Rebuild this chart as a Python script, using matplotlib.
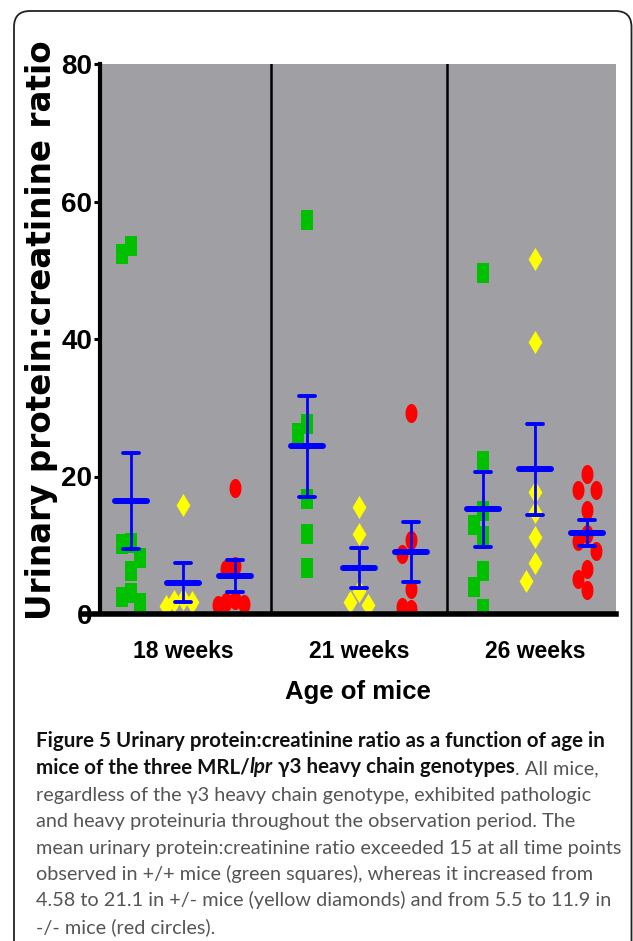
import numpy as np
import matplotlib
matplotlib.use('Agg')
import matplotlib.pyplot as plt
from matplotlib.path import Path
from matplotlib.patches import FancyBboxPatch
from matplotlib.transforms import IdentityTransform
from matplotlib import font_manager as fm

# ---------------- data ----------------
ages = ['18 weeks', '21 weeks', '26 weeks']
genotypes = ['+/+', '+/-', '-/-']

wt_18 = [53.5, 52.3, 10.4, 10.2, 8.1, 6.3, 3.1, 2.5, 1.6]
wt_21 = [57.3, 27.7, 26.3, 16.8, 11.6, 6.7]
wt_26 = [49.6, 22.3, 15.0, 12.9, 11.3, 6.3, 3.9, 0.8]

het_18 = [15.9, 2.2, 1.9, 1.8, 1.1]
het_21 = [15.6, 11.7, 3.3, 1.7, 1.3]
het_26 = [51.6, 39.5, 17.8, 14.9, 11.2, 7.4, 4.8]

ko_18 = [18.4, 7.0, 6.6, 2.0, 1.8, 1.4, 1.3]
ko_21 = [29.2, 10.8, 8.8, 3.6, 1.0, 0.7]
ko_26 = [20.3, 18.0, 18.0, 15.2, 11.7, 10.6, 9.1, 6.5, 5.1, 3.5]

yticks = [0, 20, 40, 60, 80]

series = {
    '+/+': [wt_18, wt_21, wt_26],
    '+/-': [het_18, het_21, het_26],
    '-/-': [ko_18, ko_21, ko_26],
}

# ---------------- style ----------------
W, H, DPI = 633, 941, 100
GRAY = '#A09FA4'
BLUE = '#0000FF'
colors = {'+/+': '#00C000', '+/-': '#FFFF00', '-/-': '#FF0000'}
col_offset = {'+/+': -0.295, '+/-': 0.0, '-/-': 0.295}

rect = Path([(-0.63, -1), (0.63, -1), (0.63, 1), (-0.63, 1), (-0.63, -1)],
            [Path.MOVETO, Path.LINETO, Path.LINETO, Path.LINETO, Path.CLOSEPOLY])
tt = np.linspace(0, 2 * np.pi, 61)
ell = Path(np.column_stack([0.63 * np.cos(tt), np.sin(tt)]))
dia = Path([(0, 1), (0.6, 0), (0, -1), (-0.6, 0), (0, 1)],
           [Path.MOVETO, Path.LINETO, Path.LINETO, Path.LINETO, Path.CLOSEPOLY])
markers = {'+/+': (rect, 13.7), '+/-': (dia, 16.6), '-/-': (ell, 13.7)}

installed = {f.name for f in fm.fontManager.ttflist}
if 'Liberation Sans Narrow' in installed:
    NARROW = ['Liberation Sans Narrow', 'DejaVu Sans']
    fs_xt, fs_yt, fs_xl = 18.5, 21, 20
else:
    NARROW = ['Liberation Sans', 'DejaVu Sans']
    fs_xt, fs_yt, fs_xl = 16.5, 20, 18.5


def swarm(values, step, thresh):
    values = np.asarray(values, float)
    order = np.argsort(-values, kind='stable')
    slots = {}
    offs = np.zeros(len(values))
    for i in order:
        v = values[i]
        for k in [0, -1, 1, -2, 2, -3, 3]:
            if all(abs(v - w) >= thresh for w in slots.get(k, [])):
                slots.setdefault(k, []).append(v)
                offs[i] = k * step
                break
    return offs


fig = plt.figure(figsize=(W / DPI, H / DPI), dpi=DPI)

# rounded frame around figure + caption
frame = FancyBboxPatch((14, -40), 617.5, 941 - 11 + 40,
                       boxstyle='round,pad=0,rounding_size=16',
                       transform=IdentityTransform(), fc='none',
                       ec='#222222', lw=1.3, zorder=-1)
fig.patches.append(frame)

ax_bottom_px, ax_top_px = 614, 64
ax = fig.add_axes([100 / W, 1 - ax_bottom_px / H, 516 / W,
                   (ax_bottom_px - ax_top_px) / H])
ax.set_facecolor(GRAY)
ax.set_xlim(-0.4716, 2.460)
ax.set_ylim(0, 80)

px_per_x = 516 / (2.460 + 0.4716)
px_per_y = (ax_bottom_px - ax_top_px) / 80.0
step = 8.7 / px_per_x
thresh = 19 / px_per_y

for g in genotypes:
    path, ms = markers[g]
    for gi, vals in enumerate(series[g]):
        xc = gi + col_offset[g]
        offs = swarm(vals, step, thresh)
        ax.plot(xc + offs, vals, linestyle='none', marker=path,
                markersize=ms, markerfacecolor=colors[g],
                markeredgewidth=0, zorder=3)
        m = np.mean(vals)
        se = np.std(vals, ddof=1) / np.sqrt(len(vals))
        hw = 16 / px_per_x
        cw = 8 / px_per_x
        ax.plot([xc, xc], [m - se, m + se], color=BLUE, lw=2.0, zorder=4)
        for yy in (m - se, m + se):
            ax.plot([xc - cw, xc + cw], [yy, yy], color=BLUE, lw=2.8,
                    solid_capstyle='round', zorder=4)
        ax.plot([xc - hw, xc + hw], [m, m], color=BLUE, lw=4.3,
                solid_capstyle='round', zorder=5)

for xd in (0.5, 1.5):
    ax.axvline(xd, color='black', lw=1.8, zorder=2)

for s in ('top', 'right'):
    ax.spines[s].set_visible(False)
ax.spines['left'].set_linewidth(3.0)
ax.spines['bottom'].set_linewidth(4.0)
ax.spines['bottom'].set_zorder(6)
ax.spines['left'].set_zorder(6)
ax.spines['bottom'].set_bounds(-0.565, 2.460)

ax.set_yticks(yticks)
ax.set_yticklabels([str(t) for t in yticks], family=NARROW,
                   fontweight='bold', fontsize=fs_yt)
ax.tick_params(axis='y', direction='out', length=4, width=2.2, pad=1.5)
ax.set_xticks([0, 1, 2])
ax.set_xticklabels(ages, family=NARROW, fontweight='bold', fontsize=fs_xt)
ax.tick_params(axis='x', length=0, pad=19)
ax.set_xlabel('Age of mice', family=NARROW, fontweight='bold',
              fontsize=fs_xl, labelpad=12)

fig.text(51 / W, 1 - 330 / H, 'Urinary protein:creatinine ratio',
         rotation=90, rotation_mode='anchor', ha='center', va='baseline',
         fontsize=23.5, fontweight='heavy', family='DejaVu Sans')

# ---------------- caption ----------------
CAP = ['Lato', 'DejaVu Sans']
cfs = 14.3
bfs = 14.8
dark = '#111111'
grey = '#555555'
x0 = 36 / W
base0 = 751
gap = 26.4


def yb(i):
    return 1 - (base0 + i * gap) / H


def chain(parts, i):
    prev = None
    for txt, kw in parts:
        if prev is None:
            prev = fig.text(x0, yb(i), txt, va='bottom', ha='left',
                            family=CAP, **kw)
        else:
            prev = ax.annotate(txt, xy=(1, 0), xycoords=prev, va='bottom',
                               ha='left', family=CAP,
                               annotation_clip=False, **kw)
    return prev


bold = dict(fontweight='bold', color=dark, fontsize=bfs)
norm = dict(color=grey, fontsize=cfs)
chain([('Figure 5 Urinary protein:creatinine ratio as a function of age in', bold)], 0)
chain([('mice of the three MRL/', bold),
       ('lpr', dict(fontweight='bold', fontstyle='italic', color=dark, fontsize=bfs)),
       (' \u03b33 heavy chain genotypes', bold),
       ('. All mice,', norm)], 1)
lines = [
    'regardless of the \u03b33 heavy chain genotype, exhibited pathologic',
    'and heavy proteinuria throughout the observation period. The',
    'mean urinary protein:creatinine ratio exceeded 15 at all time points',
    'observed in +/+ mice (green squares), whereas it increased from',
    '4.58 to 21.1 in +/- mice (yellow diamonds) and from 5.5 to 11.9 in',
    '-/- mice (red circles).',
]
for k, ln in enumerate(lines):
    chain([(ln, norm)], k + 2)

fig.savefig('out.png', dpi=DPI)
